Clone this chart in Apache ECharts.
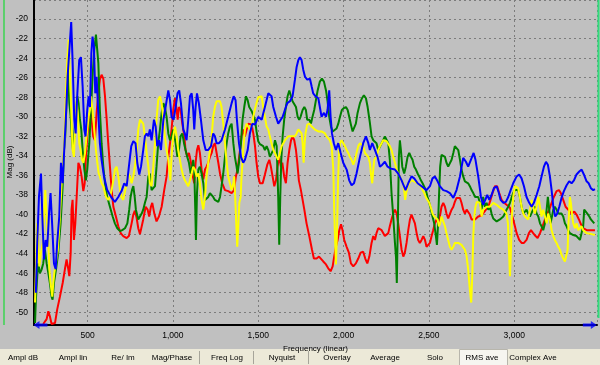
<!DOCTYPE html>
<html><head><meta charset="utf-8">
<script src="https://cdn.jsdelivr.net/npm/echarts@6/dist/echarts.min.js"></script>
<style>html,body{margin:0;padding:0;background:#c0c0c0;overflow:hidden}#c{width:600px;height:365px}</style>
</head><body><div id="c"></div>
<script>
// Frequency (Hz), magnitude (dB) pairs
const redData = [[240,-51.2],[260,-50.7],[270,-49.9],[279,-50.4],[289,-51.2],[309,-51.1],[322,-49.7],[338,-48.4],[354,-47.0],[367,-45.6],[377,-44.6],[387,-45.6],[393,-46.3],[401,-43.9],[406,-39.5],[412,-38.5],[420,-42.6],[428,-40.9],[436,-38.2],[446,-34.7],[455,-35.1],[465,-36.1],[475,-37.6],[483,-36.8],[490,-34.1],[498,-32.0],[508,-30.3],[518,-29.3],[526,-30.7],[533,-32.0],[543,-32.4],[553,-29.6],[563,-27.6],[572,-26.2],[582,-25.7],[592,-26.1],[602,-27.9],[612,-30.3],[621,-32.7],[631,-35.1],[641,-37.5],[651,-39.2],[666,-40.2],[680,-41.2],[694,-41.9],[709,-42.2],[729,-42.4],[742,-42.2],[758,-40.9],[768,-40.0],[777,-39.6],[787,-40.3],[797,-41.4],[807,-42.0],[813,-42.1],[826,-40.5],[840,-39.2],[852,-39.5],[861,-40.2],[871,-39.2],[879,-38.8],[891,-39.9],[904,-40.7],[918,-40.2],[934,-39.2],[949,-37.5],[963,-36.1],[973,-34.1],[983,-32.7],[992,-31.3],[1002,-29.3],[1012,-28.1],[1022,-29.3],[1028,-30.3],[1035,-29.0],[1045,-29.3],[1055,-30.7],[1067,-32.0],[1074,-33.4],[1084,-34.1],[1094,-33.7],[1106,-34.7],[1113,-35.8],[1125,-36.8],[1133,-34.7],[1141,-33.4],[1149,-32.9],[1158,-33.7],[1168,-35.4],[1178,-36.4],[1188,-35.4],[1197,-35.1],[1207,-34.7],[1217,-34.1],[1227,-33.7],[1236,-33.0],[1246,-32.7],[1256,-33.7],[1266,-34.7],[1276,-35.8],[1289,-36.8],[1305,-37.5],[1324,-37.6],[1344,-37.8],[1358,-37.5],[1369,-36.1],[1379,-35.4],[1393,-33.4],[1402,-32.0],[1412,-31.3],[1422,-32.0],[1432,-31.3],[1442,-30.7],[1451,-30.7],[1461,-30.8],[1471,-31.7],[1481,-33.0],[1490,-34.7],[1500,-36.1],[1510,-36.8],[1526,-36.8],[1539,-35.9],[1553,-34.9],[1565,-34.4],[1574,-35.1],[1584,-36.1],[1594,-37.1],[1604,-36.5],[1613,-35.1],[1623,-34.1],[1633,-35.1],[1641,-34.7],[1652,-36.1],[1662,-36.8],[1672,-34.7],[1682,-33.4],[1692,-32.4],[1701,-32.0],[1711,-32.4],[1721,-33.4],[1729,-34.7],[1738,-36.5],[1750,-37.5],[1760,-38.5],[1770,-39.5],[1783,-40.9],[1799,-42.2],[1815,-43.6],[1826,-44.5],[1842,-44.5],[1856,-44.3],[1867,-44.5],[1881,-44.8],[1897,-45.1],[1910,-45.5],[1924,-45.8],[1936,-45.3],[1945,-44.3],[1955,-43.3],[1965,-42.6],[1975,-41.6],[1985,-41.0],[1994,-41.6],[2004,-42.6],[2018,-43.3],[2031,-43.9],[2043,-45.0],[2057,-45.3],[2072,-45.0],[2086,-44.5],[2100,-43.9],[2115,-43.8],[2127,-44.5],[2139,-45.0],[2151,-44.3],[2164,-42.9],[2174,-42.2],[2184,-42.6],[2193,-41.9],[2203,-41.4],[2223,-41.6],[2242,-42.2],[2252,-42.4],[2262,-41.9],[2271,-41.2],[2281,-40.5],[2291,-39.9],[2301,-39.5],[2311,-39.9],[2320,-40.9],[2330,-42.2],[2340,-43.6],[2350,-44.3],[2359,-43.9],[2369,-42.9],[2379,-41.6],[2389,-40.5],[2398,-40.0],[2408,-40.0],[2418,-40.9],[2428,-41.9],[2437,-42.6],[2447,-42.9],[2457,-42.6],[2467,-42.2],[2477,-42.6],[2486,-43.3],[2496,-43.4],[2506,-42.9],[2516,-42.2],[2525,-41.6],[2535,-40.9],[2545,-40.5],[2555,-40.9],[2564,-40.2],[2574,-39.2],[2584,-38.8],[2594,-39.2],[2603,-39.9],[2613,-40.4],[2623,-40.2],[2633,-39.5],[2643,-39.2],[2652,-38.7],[2662,-38.3],[2672,-38.2],[2682,-38.3],[2691,-38.8],[2701,-39.5],[2711,-39.9],[2721,-39.5],[2730,-39.7],[2740,-40.0],[2750,-40.5],[2760,-40.7],[2770,-40.5],[2779,-40.4],[2789,-40.2],[2809,-40.1],[2818,-40.2],[2834,-39.5],[2848,-39.2],[2861,-38.5],[2873,-37.8],[2887,-37.1],[2900,-37.1],[2912,-37.8],[2926,-38.5],[2940,-38.8],[2955,-39.0],[2975,-39.3],[2984,-39.9],[2994,-40.5],[3004,-41.2],[3014,-41.9],[3029,-42.6],[3043,-42.9],[3057,-42.9],[3072,-42.6],[3086,-41.9],[3098,-41.6],[3111,-41.9],[3125,-42.2],[3137,-42.4],[3151,-41.9],[3166,-41.2],[3180,-40.5],[3193,-39.9],[3205,-39.5],[3219,-38.8],[3232,-38.2],[3248,-37.6],[3262,-37.5],[3273,-37.8],[3287,-38.5],[3301,-39.2],[3316,-39.5],[3336,-39.9],[3352,-39.7],[3365,-40.0],[3379,-40.5],[3391,-41.0],[3404,-41.4],[3424,-41.6],[3443,-41.6],[3463,-41.6],[3473,-41.6]];

const greenData = [[192,-51.1],[197,-48.7],[205,-46.3],[211,-45.0],[221,-46.0],[231,-45.6],[240,-45.0],[250,-43.6],[260,-45.0],[270,-46.0],[279,-47.0],[289,-48.4],[295,-48.7],[303,-47.0],[315,-45.6],[328,-43.9],[342,-40.9],[354,-37.1],[362,-33.4],[369,-32.0],[377,-28.3],[385,-25.2],[393,-28.6],[401,-30.0],[410,-32.7],[416,-33.7],[424,-31.3],[432,-29.3],[440,-27.9],[447,-28.6],[455,-30.3],[463,-31.3],[471,-33.4],[481,-35.4],[490,-36.5],[498,-35.4],[510,-32.7],[520,-29.3],[529,-25.9],[539,-23.2],[549,-21.6],[557,-21.5],[563,-24.5],[572,-29.3],[582,-32.7],[592,-35.1],[602,-36.8],[615,-38.2],[631,-39.2],[647,-40.2],[660,-40.9],[674,-41.4],[690,-41.7],[703,-41.6],[719,-41.4],[733,-40.9],[744,-39.5],[752,-38.2],[760,-37.5],[768,-37.1],[776,-38.2],[783,-39.5],[793,-40.2],[797,-40.5],[807,-40.2],[817,-39.9],[826,-39.5],[836,-38.8],[846,-38.2],[856,-36.1],[865,-35.8],[875,-37.5],[885,-37.6],[895,-37.1],[904,-35.1],[914,-32.7],[924,-31.3],[934,-29.6],[944,-28.6],[953,-29.0],[963,-30.0],[973,-31.7],[983,-32.4],[992,-32.0],[1002,-31.3],[1008,-31.2],[1016,-32.7],[1026,-34.1],[1035,-33.4],[1045,-32.0],[1055,-31.7],[1065,-32.7],[1074,-33.4],[1084,-34.1],[1094,-34.7],[1104,-35.8],[1113,-35.1],[1119,-34.4],[1125,-35.4],[1131,-39.5],[1135,-42.6],[1141,-37.8],[1149,-35.4],[1158,-35.1],[1168,-35.8],[1178,-36.8],[1188,-38.5],[1197,-38.3],[1207,-38.2],[1217,-37.8],[1227,-38.0],[1236,-38.2],[1246,-38.5],[1256,-38.3],[1266,-38.7],[1276,-38.2],[1285,-37.1],[1295,-35.8],[1305,-34.1],[1315,-32.7],[1324,-31.7],[1334,-31.0],[1344,-30.7],[1354,-32.7],[1363,-34.1],[1373,-35.1],[1379,-35.8],[1389,-34.4],[1399,-32.7],[1408,-30.3],[1418,-29.0],[1428,-27.9],[1438,-28.3],[1447,-29.0],[1461,-29.4],[1471,-29.6],[1481,-30.3],[1490,-31.5],[1500,-32.5],[1510,-32.8],[1520,-32.9],[1529,-33.0],[1539,-33.4],[1549,-33.0],[1559,-33.4],[1568,-34.1],[1578,-34.2],[1588,-33.4],[1598,-32.4],[1608,-33.0],[1617,-38.2],[1623,-43.1],[1629,-38.2],[1635,-34.4],[1643,-32.0],[1652,-30.3],[1662,-29.0],[1672,-27.9],[1682,-27.3],[1692,-27.9],[1701,-28.4],[1711,-28.3],[1721,-29.0],[1731,-30.0],[1740,-30.3],[1748,-30.0],[1760,-29.3],[1770,-29.0],[1779,-29.3],[1787,-30.3],[1799,-30.3],[1809,-30.7],[1818,-30.0],[1828,-29.3],[1838,-28.3],[1848,-27.3],[1861,-26.4],[1873,-26.1],[1885,-26.4],[1897,-27.3],[1906,-28.4],[1916,-30.0],[1926,-31.0],[1936,-31.5],[1947,-31.5],[1959,-31.2],[1969,-30.7],[1979,-30.0],[1990,-29.3],[2002,-29.1],[2014,-29.0],[2024,-29.3],[2033,-30.0],[2043,-30.8],[2053,-31.5],[2063,-31.3],[2072,-30.7],[2082,-29.6],[2096,-28.6],[2108,-28.1],[2119,-27.8],[2131,-28.1],[2141,-29.0],[2154,-30.6],[2164,-32.0],[2174,-32.4],[2184,-32.5],[2193,-32.7],[2203,-33.4],[2213,-33.4],[2223,-32.7],[2232,-32.4],[2242,-32.0],[2252,-32.0],[2262,-32.7],[2271,-34.4],[2281,-37.8],[2291,-40.2],[2301,-42.9],[2307,-44.3],[2312,-47.0],[2318,-40.9],[2324,-34.1],[2330,-32.4],[2336,-33.4],[2344,-35.1],[2355,-35.8],[2365,-35.1],[2375,-34.1],[2385,-33.7],[2395,-34.1],[2404,-34.4],[2414,-35.1],[2424,-35.4],[2434,-35.8],[2443,-36.1],[2453,-36.5],[2463,-36.8],[2473,-36.8],[2482,-37.5],[2492,-38.2],[2502,-38.8],[2512,-39.5],[2521,-40.2],[2531,-40.9],[2541,-42.2],[2547,-43.1],[2553,-41.2],[2559,-38.2],[2566,-35.1],[2574,-33.9],[2584,-33.7],[2594,-34.1],[2603,-34.7],[2613,-35.1],[2623,-35.1],[2633,-34.4],[2643,-33.7],[2652,-33.0],[2662,-33.0],[2672,-33.4],[2682,-34.4],[2691,-35.4],[2701,-36.1],[2711,-36.6],[2721,-36.8],[2730,-36.8],[2740,-37.1],[2750,-37.5],[2760,-37.8],[2770,-38.2],[2789,-38.2],[2799,-38.8],[2809,-39.5],[2818,-38.2],[2828,-39.2],[2838,-38.8],[2848,-39.5],[2858,-39.2],[2867,-39.9],[2877,-40.4],[2887,-40.5],[2897,-40.7],[2906,-40.5],[2916,-40.5],[2926,-40.4],[2936,-40.2],[2945,-39.9],[2955,-39.5],[2965,-39.2],[2975,-38.8],[2984,-38.3],[2994,-37.8],[3004,-37.5],[3014,-37.3],[3023,-37.5],[3033,-38.2],[3043,-39.2],[3053,-39.9],[3063,-39.7],[3072,-39.5],[3082,-39.9],[3092,-40.2],[3102,-40.0],[3111,-39.5],[3121,-39.2],[3131,-39.9],[3141,-40.2],[3151,-40.9],[3160,-41.2],[3170,-41.6],[3180,-40.9],[3190,-39.5],[3197,-38.2],[3205,-39.5],[3213,-40.9],[3221,-40.2],[3229,-39.5],[3238,-39.2],[3248,-39.5],[3258,-39.9],[3268,-39.7],[3277,-39.9],[3287,-40.2],[3297,-40.9],[3307,-41.2],[3316,-41.6],[3326,-41.9],[3336,-42.1],[3346,-42.1],[3356,-41.9],[3365,-42.2],[3375,-42.4],[3385,-42.6],[3395,-42.6],[3404,-41.2],[3410,-39.5],[3420,-39.7],[3428,-39.9],[3440,-40.2],[3449,-40.5],[3459,-40.7],[3469,-40.9]];

const yellowData = [[192,-49.0],[197,-45.6],[201,-42.9],[205,-40.9],[211,-42.9],[217,-45.3],[227,-43.9],[237,-42.9],[246,-39.5],[252,-37.5],[260,-40.2],[270,-42.9],[276,-45.6],[283,-47.0],[293,-48.4],[299,-47.0],[305,-46.0],[315,-46.0],[326,-43.6],[338,-40.2],[348,-36.8],[358,-34.4],[365,-32.0],[373,-27.6],[381,-24.2],[389,-22.1],[397,-25.9],[404,-29.3],[412,-33.4],[420,-34.1],[428,-30.7],[436,-28.3],[444,-30.0],[451,-32.7],[459,-33.4],[467,-34.4],[475,-34.7],[485,-33.7],[494,-32.0],[506,-30.0],[514,-29.3],[520,-27.9],[529,-29.3],[539,-31.3],[549,-33.4],[557,-34.7],[565,-35.8],[572,-36.1],[582,-36.8],[592,-37.1],[608,-38.2],[621,-38.5],[631,-38.2],[641,-37.5],[651,-36.5],[660,-35.4],[670,-35.1],[680,-36.1],[690,-37.5],[699,-38.2],[709,-38.5],[719,-38.3],[729,-36.8],[738,-35.8],[748,-36.1],[758,-36.8],[768,-36.1],[777,-35.1],[787,-33.7],[797,-31.3],[807,-30.3],[817,-30.2],[826,-30.7],[836,-32.0],[846,-33.7],[856,-35.1],[865,-36.8],[875,-37.1],[885,-35.1],[895,-32.7],[904,-30.3],[914,-28.3],[924,-27.9],[934,-28.6],[944,-30.3],[953,-32.0],[963,-33.4],[973,-34.4],[979,-35.4],[985,-36.5],[992,-34.1],[1002,-32.0],[1012,-31.0],[1022,-32.0],[1031,-33.4],[1041,-34.4],[1051,-35.4],[1061,-36.1],[1070,-36.5],[1080,-36.8],[1090,-37.1],[1100,-36.5],[1110,-35.8],[1119,-35.1],[1129,-35.4],[1139,-36.1],[1149,-35.8],[1158,-36.8],[1168,-38.5],[1178,-39.5],[1188,-38.2],[1197,-36.1],[1207,-34.7],[1217,-33.4],[1227,-32.0],[1236,-30.0],[1246,-29.0],[1256,-28.4],[1266,-28.3],[1276,-28.4],[1285,-29.0],[1295,-30.7],[1305,-32.7],[1315,-34.7],[1324,-36.1],[1334,-36.8],[1344,-37.5],[1354,-36.8],[1359,-36.1],[1365,-38.2],[1371,-40.9],[1377,-43.3],[1383,-41.2],[1389,-38.8],[1397,-38.2],[1402,-36.1],[1412,-33.4],[1422,-31.3],[1432,-30.7],[1442,-30.8],[1451,-31.3],[1461,-31.0],[1471,-30.0],[1481,-29.2],[1490,-28.6],[1500,-28.0],[1510,-27.8],[1520,-27.9],[1529,-29.0],[1539,-30.0],[1549,-31.0],[1559,-31.3],[1568,-32.0],[1578,-32.7],[1588,-33.4],[1598,-33.7],[1608,-34.1],[1617,-34.4],[1627,-33.7],[1637,-33.0],[1647,-32.7],[1656,-32.4],[1666,-32.2],[1676,-32.0],[1686,-32.2],[1695,-32.0],[1705,-31.9],[1715,-32.0],[1725,-31.7],[1735,-31.3],[1744,-31.2],[1754,-31.7],[1760,-32.7],[1766,-34.7],[1772,-32.7],[1777,-31.7],[1787,-30.8],[1799,-30.7],[1813,-31.0],[1822,-31.2],[1832,-31.3],[1842,-31.3],[1852,-31.5],[1861,-31.7],[1871,-31.5],[1881,-31.5],[1891,-31.7],[1900,-32.0],[1910,-32.2],[1920,-32.4],[1930,-33.0],[1940,-35.4],[1945,-39.5],[1951,-42.9],[1955,-45.1],[1961,-42.2],[1967,-37.1],[1973,-33.7],[1979,-32.7],[1988,-32.4],[1998,-32.7],[2008,-33.0],[2018,-33.4],[2027,-33.7],[2037,-34.1],[2047,-34.4],[2057,-34.9],[2067,-34.4],[2076,-33.7],[2086,-33.0],[2096,-32.7],[2106,-32.7],[2115,-33.0],[2125,-33.7],[2145,-34.1],[2154,-34.7],[2162,-36.1],[2168,-36.8],[2174,-35.4],[2180,-34.4],[2193,-34.1],[2203,-33.4],[2213,-33.0],[2223,-32.7],[2232,-32.4],[2242,-32.4],[2252,-32.5],[2262,-32.7],[2271,-33.0],[2281,-33.4],[2291,-34.1],[2301,-34.7],[2311,-35.4],[2320,-35.8],[2330,-36.1],[2340,-36.5],[2350,-36.8],[2355,-37.5],[2361,-38.5],[2367,-37.8],[2375,-37.1],[2385,-36.8],[2395,-36.5],[2404,-36.5],[2414,-36.6],[2424,-36.8],[2434,-36.8],[2443,-37.0],[2453,-37.1],[2463,-37.5],[2473,-37.8],[2482,-38.2],[2492,-38.5],[2502,-38.8],[2512,-39.3],[2521,-39.9],[2531,-40.2],[2541,-40.4],[2551,-40.5],[2559,-41.2],[2566,-40.9],[2574,-40.2],[2584,-40.7],[2594,-41.2],[2603,-41.9],[2613,-42.6],[2623,-43.3],[2633,-43.6],[2643,-43.3],[2652,-42.9],[2662,-42.7],[2672,-42.9],[2682,-42.9],[2691,-43.1],[2701,-43.3],[2711,-43.6],[2721,-44.3],[2730,-45.6],[2740,-47.7],[2748,-49.0],[2754,-46.3],[2760,-42.2],[2766,-40.2],[2773,-39.2],[2781,-38.7],[2789,-38.5],[2799,-38.8],[2809,-40.2],[2818,-39.5],[2828,-39.3],[2838,-39.2],[2858,-39.2],[2877,-38.8],[2897,-39.0],[2916,-39.3],[2936,-39.5],[2955,-39.9],[2963,-40.9],[2969,-43.6],[2975,-46.3],[2981,-43.6],[2986,-40.2],[2994,-38.2],[3004,-37.1],[3014,-37.0],[3023,-37.3],[3033,-38.2],[3043,-39.2],[3053,-39.9],[3063,-40.2],[3072,-40.4],[3082,-40.5],[3092,-39.5],[3102,-38.5],[3111,-39.2],[3121,-39.9],[3131,-39.2],[3141,-38.2],[3151,-39.2],[3160,-40.2],[3170,-39.5],[3180,-40.2],[3190,-40.9],[3199,-39.9],[3209,-40.5],[3219,-41.6],[3229,-42.2],[3238,-42.6],[3248,-42.9],[3258,-43.3],[3268,-43.6],[3277,-44.1],[3287,-44.5],[3297,-44.8],[3307,-44.6],[3313,-43.6],[3318,-40.9],[3326,-38.2],[3332,-38.8],[3340,-40.2],[3346,-40.9],[3356,-41.4],[3365,-40.9],[3375,-41.6],[3385,-41.4],[3395,-41.2],[3404,-41.6],[3414,-41.7],[3424,-41.9],[3434,-42.1],[3453,-42.0],[3473,-42.1]];

const blueData = [[197,-48.0],[205,-42.9],[215,-38.2],[227,-35.8],[235,-40.2],[244,-44.6],[254,-42.6],[264,-43.3],[274,-39.9],[283,-37.8],[293,-41.2],[303,-45.0],[313,-45.6],[322,-42.9],[334,-40.2],[344,-34.7],[354,-36.8],[363,-33.4],[373,-30.0],[383,-25.9],[393,-23.2],[404,-20.3],[412,-24.2],[422,-30.3],[430,-31.7],[440,-27.6],[451,-24.2],[461,-23.9],[471,-26.9],[481,-31.3],[488,-32.0],[498,-29.3],[506,-27.9],[514,-29.0],[522,-23.5],[529,-21.8],[537,-22.8],[545,-27.6],[553,-25.9],[561,-29.0],[572,-32.7],[582,-34.4],[596,-36.1],[615,-37.5],[641,-38.3],[660,-38.7],[680,-38.2],[699,-37.6],[715,-36.8],[729,-37.1],[742,-35.1],[756,-33.0],[768,-32.5],[781,-32.7],[791,-34.7],[803,-35.9],[813,-35.1],[826,-33.4],[836,-32.0],[846,-31.7],[856,-32.0],[865,-31.3],[875,-32.4],[889,-30.3],[899,-31.0],[908,-33.0],[918,-32.4],[930,-33.4],[944,-30.3],[957,-29.0],[973,-27.3],[983,-28.3],[992,-30.0],[1004,-30.3],[1016,-29.0],[1027,-27.6],[1037,-27.3],[1047,-28.6],[1061,-31.3],[1070,-31.7],[1080,-32.4],[1090,-30.3],[1100,-27.9],[1110,-27.6],[1119,-29.3],[1125,-31.3],[1133,-29.0],[1141,-27.6],[1152,-28.6],[1164,-30.3],[1178,-32.4],[1192,-33.4],[1207,-33.4],[1223,-33.0],[1236,-31.7],[1246,-32.0],[1256,-32.7],[1270,-32.7],[1285,-32.4],[1305,-31.3],[1324,-30.0],[1344,-28.6],[1356,-27.9],[1367,-28.3],[1375,-30.3],[1387,-32.7],[1399,-34.1],[1412,-34.7],[1422,-34.4],[1438,-33.4],[1451,-31.7],[1465,-30.7],[1481,-30.8],[1500,-30.0],[1520,-30.3],[1539,-29.0],[1559,-27.6],[1568,-27.4],[1578,-27.9],[1588,-29.0],[1604,-30.0],[1617,-30.7],[1627,-30.5],[1643,-30.0],[1656,-29.3],[1670,-28.6],[1686,-28.4],[1701,-27.9],[1715,-26.2],[1725,-24.9],[1735,-24.2],[1744,-23.9],[1754,-24.2],[1764,-25.2],[1774,-25.9],[1787,-26.2],[1803,-26.1],[1813,-26.9],[1822,-27.6],[1836,-27.9],[1852,-28.1],[1861,-29.0],[1871,-30.0],[1885,-29.6],[1897,-30.0],[1906,-29.3],[1916,-27.3],[1924,-30.0],[1932,-31.7],[1943,-32.7],[1955,-33.4],[1969,-32.7],[1983,-33.7],[1998,-34.7],[2018,-35.4],[2033,-36.5],[2047,-37.0],[2061,-36.8],[2076,-35.8],[2096,-34.1],[2115,-32.7],[2131,-32.0],[2145,-32.7],[2154,-33.4],[2168,-32.7],[2184,-33.4],[2199,-34.1],[2213,-35.1],[2227,-34.9],[2242,-34.6],[2258,-35.1],[2277,-35.3],[2301,-35.4],[2320,-35.8],[2340,-36.5],[2363,-37.5],[2379,-36.8],[2398,-36.1],[2414,-36.3],[2434,-36.8],[2457,-37.1],[2486,-37.5],[2506,-37.1],[2521,-36.3],[2535,-36.1],[2551,-36.6],[2564,-37.1],[2584,-37.5],[2603,-37.6],[2623,-37.8],[2643,-38.3],[2662,-37.5],[2682,-36.1],[2701,-34.2],[2717,-34.6],[2730,-35.1],[2746,-34.4],[2762,-33.7],[2773,-34.4],[2789,-36.1],[2805,-38.2],[2818,-39.0],[2828,-38.8],[2842,-38.0],[2854,-38.5],[2867,-38.0],[2881,-37.3],[2897,-37.1],[2910,-37.8],[2920,-38.5],[2936,-38.8],[2951,-38.7],[2965,-38.2],[2979,-37.5],[2994,-36.8],[3014,-36.1],[3029,-35.9],[3043,-36.3],[3057,-37.1],[3072,-38.2],[3088,-38.8],[3102,-39.2],[3115,-38.8],[3131,-38.0],[3147,-37.1],[3160,-36.1],[3174,-35.1],[3186,-34.6],[3197,-34.9],[3209,-36.1],[3219,-37.5],[3229,-39.2],[3240,-40.2],[3252,-39.9],[3264,-39.2],[3277,-38.3],[3291,-37.6],[3307,-37.0],[3322,-36.6],[3336,-36.8],[3350,-36.5],[3365,-35.9],[3381,-35.6],[3395,-35.4],[3408,-35.9],[3424,-36.6],[3436,-36.8],[3449,-37.3],[3463,-37.5],[3473,-37.4]];

// cursor markers on the frequency axis (Hz, dB)
const cursorMarks = [[224,-51.3],[3443,-51.3]];

const toolbarLabels = ['Ampl dB','Ampl lin','Re/ Im','Mag/Phase','Freq Log','Nyquist','Overlay','Average','Solo','RMS ave','Complex Ave'];
const toolbarCenters = [23,73,123,172,227,282,337,385,435,482,533];
const toolbarSeparators = [199,253,308];

const FONT = "'Liberation Sans', Arial, sans-serif";
const chart = echarts.init(document.getElementById('c'), null, {renderer:'canvas', width:600, height:365});

function lineSeries(name, data, color){
  return {name, type:'line', data, showSymbol:false, symbol:'none', smooth:false,
    lineStyle:{color, width:2}, itemStyle:{color}, clip:true, silent:true};
}

const graphics = [
  {type:'rect', left:0, top:349, z:-1, shape:{width:600, height:16}, style:{fill:'#ece9d8'}},
  {type:'rect', left:459, top:349, z:0, shape:{width:48, height:16}, style:{fill:'#f6f5f0', stroke:'#b8b6ac', lineWidth:1}},
  {type:'line', z:10, shape:{x1:4, y1:0, x2:4, y2:325}, style:{stroke:'#5ccf6c', lineWidth:2}},
  {type:'line', z:10, shape:{x1:598.5, y1:0, x2:598.5, y2:318}, style:{stroke:'#2fdc7a', lineWidth:2}},
  {type:'text', z:5, x:10, y:162, rotation:Math.PI/2,
    style:{text:'Mag (dB)', align:'center', verticalAlign:'middle', font:'8px ' + FONT, fill:'#000'}}
];
toolbarSeparators.forEach(function(x){
  graphics.push({type:'line', shape:{x1:x+0.5, y1:351, x2:x+0.5, y2:364}, style:{stroke:'#a7a59a', lineWidth:1}});
});
toolbarLabels.forEach(function(t, i){
  graphics.push({type:'text', z:5, style:{text:t, x:toolbarCenters[i], y:358, align:'center', verticalAlign:'middle', font:'8px ' + FONT, fill:'#000'}});
});

chart.setOption({
  animation:false,
  backgroundColor:'#c0c0c0',
  grid:{left:34, right:3, top:0, bottom:40, containLabel:false, outerBoundsMode:'none'},
  xAxis:{type:'value', min:186, max:3485, splitNumber:7,
    name:'Frequency (linear)', nameLocation:'middle', nameGap:11,
    nameTextStyle:{fontFamily:FONT, fontSize:8, color:'#000'},
    axisLine:{onZero:false, lineStyle:{color:'#000', width:2}},
    axisTick:{show:false},
    axisLabel:{fontFamily:FONT, fontSize:8.5, color:'#000', margin:6, showMinLabel:false, showMaxLabel:false,
      formatter:function(v){return v.toLocaleString('en-US');}},
    splitLine:{show:true, lineStyle:{color:'#7c7c7c', type:[2,3], width:1}}},
  yAxis:{type:'value', min:-51.3, max:-18.05, splitNumber:16,
    axisLine:{onZero:false, lineStyle:{color:'#000', width:2}},
    axisTick:{show:false},
    axisLabel:{fontFamily:FONT, fontSize:8.5, color:'#000', margin:6, showMinLabel:false, showMaxLabel:false},
    splitLine:{show:true, lineStyle:{color:'#7c7c7c', type:[2,3], width:1}}},
  series:[
    lineSeries('Red', redData, '#ff0000'),
    lineSeries('Green', greenData, '#008000'),
    lineSeries('Yellow', yellowData, '#ffff00'),
    lineSeries('Blue', blueData, '#0000ff'),
    {name:'Cursors', type:'scatter', data:cursorMarks, clip:false, silent:true, z:5,
      symbol:'path://M0,5 L6,0 L6,3 L14,3 L14,7 L6,7 L6,10 Z', symbolSize:[14,8],
      symbolRotate:function(v, p){ return p.dataIndex === 0 ? 0 : 180; },
      itemStyle:{color:'#0000ff'}}
  ],
  graphic:graphics
});
</script>
</body></html>
